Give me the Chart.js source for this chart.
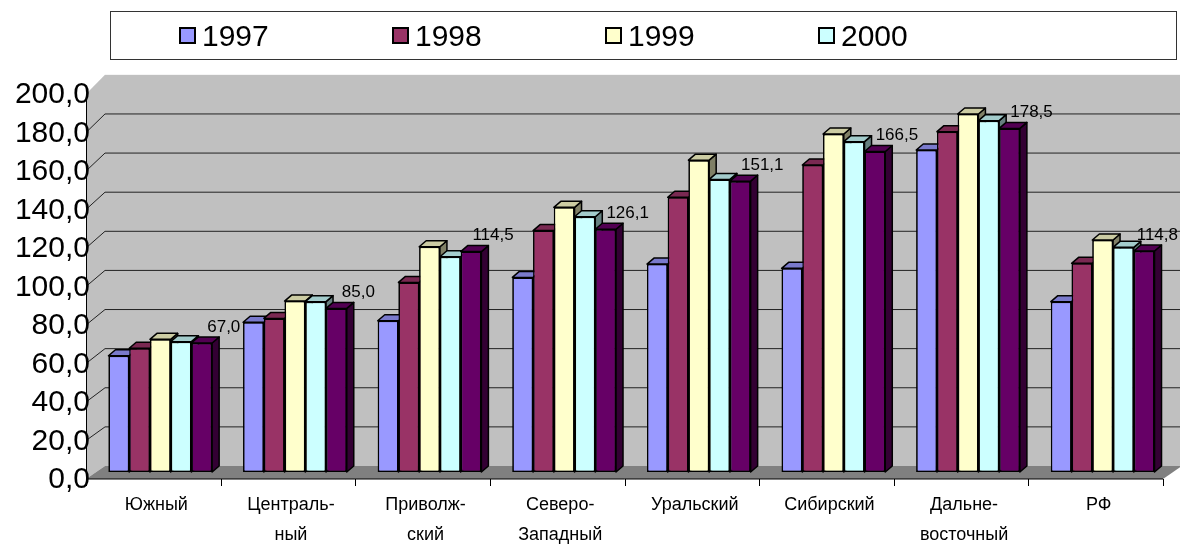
<!DOCTYPE html>
<html>
<head>
<meta charset="utf-8">
<script src="https://cdn.jsdelivr.net/npm/chart.js@4.4.0/dist/chart.umd.min.js"></script>
<style>
  html, body { margin: 0; padding: 0; background: #fff; }
  #wrap { position: relative; width: 1180px; height: 544px; }
  #chart { position: absolute; left: 0; top: 0; }
  #legend {
    position: absolute; left: 110px; top: 11px; width: 1067px; height: 49px;
    box-sizing: border-box; border: 1px solid #333; padding-left: 68px;
    display: flex; align-items: center;
    font: 30px Arial, "Liberation Sans", sans-serif; color: #000;
  }
  #legend .item { display: flex; align-items: center; width: 213px; }
  #legend .sq { width: 17px; height: 17px; box-sizing: border-box; border: 2px solid #000; margin-right: 6px; }
</style>
</head>
<body>
<div id="wrap">
  <canvas id="chart" width="1180" height="544"></canvas>
  <div id="legend"></div>
</div>
<script>
// regions (x axis)
const categories = [['Южный'], ['Централь-', 'ный'], ['Приволж-', 'ский'], ['Северо-', 'Западный'],
                    ['Уральский'], ['Сибирский'], ['Дальне-', 'восточный'], ['РФ']];
const seriesNames = ['1997', '1998', '1999', '2000', '2001'];
const values1997 = [60.4, 77.8, 78.6, 101.1, 108.0, 105.8, 167.3, 88.5];
const values1998 = [64.3, 79.8, 98.5, 125.4, 142.7, 159.5, 176.8, 108.4];
const values1999 = [68.9, 88.8, 117.0, 137.5, 162.0, 175.6, 186.0, 120.5];
const values2000 = [67.7, 88.5, 111.8, 132.6, 152.0, 171.6, 182.5, 116.7];
const values2001 = [67.0, 85.0, 114.5, 126.1, 151.1, 166.5, 178.5, 114.8];
const seriesColors = ['#9999FF', '#993366', '#FFFFCC', '#CCFFFF', '#660066'];
const legendCount = 4;     // only the first four years are in the legend
const labelledSeries = 4;  // the last series carries value labels
const yMin = 0, yMax = 200, yStep = 20;

const FONT = 'Arial, "Liberation Sans", sans-serif';
const BAR_DEPTH = { dx: 7, dy: -6 };
const FRONT = { dx: -7, dy: 7 };
const BACK = { dx: 12, dy: -6 };

function fmt(v) { return v.toFixed(1).replace('.', ','); }

function shade(hex, f) {
  const n = parseInt(hex.slice(1), 16);
  const r = Math.round(((n >> 16) & 255) * f), g = Math.round(((n >> 8) & 255) * f), b = Math.round((n & 255) * f);
  return `rgb(${r},${g},${b})`;
}

function poly(ctx, pts, fill, stroke) {
  ctx.beginPath();
  ctx.moveTo(pts[0][0], pts[0][1]);
  for (let i = 1; i < pts.length; i++) ctx.lineTo(pts[i][0], pts[i][1]);
  ctx.closePath();
  if (fill) { ctx.fillStyle = fill; ctx.fill(); }
  if (stroke) { ctx.strokeStyle = stroke; ctx.stroke(); }
}

// walls, floor and gridlines of the 3D box
const box3d = {
  id: 'box3d',
  beforeDraw(chart) {
    const { ctx, chartArea: a, scales: { y } } = chart;
    const fx0 = a.left + FRONT.dx, fx1 = a.right + FRONT.dx;
    const bx0 = a.left + BACK.dx, bx1 = a.right + BACK.dx;
    const fy = v => y.getPixelForValue(v) + FRONT.dy;
    const by = v => a.bottom + BACK.dy - (a.bottom - y.getPixelForValue(v)) * 1.016;
    ctx.save();
    ctx.fillStyle = '#C0C0C0';
    ctx.fillRect(bx0, by(yMax), bx1 - bx0, by(yMin) - by(yMax));
    poly(ctx, [[fx0, fy(yMin)], [bx0, by(yMin)], [bx0, by(yMax)], [fx0, fy(yMax)]], '#C0C0C0');
    poly(ctx, [[fx0, fy(yMin)], [fx1, fy(yMin)], [bx1, by(yMin)], [bx0, by(yMin)]], '#808080');
    ctx.lineWidth = 1;
    ctx.strokeStyle = '#222';
    for (let v = yMin + yStep; v < yMax; v += yStep) {
      ctx.beginPath();
      ctx.moveTo(fx0, fy(v)); ctx.lineTo(bx0, by(v)); ctx.lineTo(bx1, by(v));
      ctx.stroke();
    }
    ctx.strokeStyle = '#000';
    ctx.beginPath();
    ctx.moveTo(fx0 + 0.5, fy(yMax)); ctx.lineTo(fx0 + 0.5, fy(yMin)); ctx.lineTo(fx1, fy(yMin));
    ctx.stroke();
    const n = chart.data.labels.length;
    for (let i = 0; i <= n; i++) {
      const x = Math.round(a.left + i * a.width / n + FRONT.dx) + 0.5;
      ctx.beginPath(); ctx.moveTo(x, fy(yMin)); ctx.lineTo(x, fy(yMin) + 7); ctx.stroke();
    }
    ctx.restore();
  },
  afterDatasetsDraw(chart) {
    const ctx = chart.ctx;
    const metas = chart.data.datasets.map((d, i) => chart.getDatasetMeta(i));
    ctx.save();
    ctx.lineWidth = 1.5;
    ctx.lineJoin = 'round';
    for (let j = 0; j < chart.data.labels.length; j++) {
      metas.forEach((meta, i) => {
        const bar = meta.data[j];
        const { x, y, base, width } = bar.getProps(['x', 'y', 'base', 'width'], true);
        const x0 = x - width / 2, x1 = x + width / 2;
        const col = chart.data.datasets[i].backgroundColor;
        const dx = BAR_DEPTH.dx, dy = BAR_DEPTH.dy;
        poly(ctx, [[x1, y], [x1 + dx, y + dy], [x1 + dx, base + dy], [x1, base]], shade(col, 0.5), '#000');
        poly(ctx, [[x0, y], [x1, y], [x1 + dx, y + dy], [x0 + dx, y + dy]], shade(col, 0.8), '#000');
        bar.draw(ctx);
      });
    }
    // value labels for the last series, kept inside the canvas
    ctx.fillStyle = '#000';
    ctx.font = '17px ' + FONT;
    ctx.textAlign = 'center';
    ctx.textBaseline = 'middle';
    const ds = chart.data.datasets[labelledSeries];
    metas[labelledSeries].data.forEach((bar, j) => {
      const txt = fmt(ds.data[j]);
      const half = ctx.measureText(txt).width / 2;
      const lx = Math.min(bar.x + 22, chart.width - 2 - half);
      ctx.fillText(txt, lx, bar.y - 16);
    });
    ctx.restore();
  }
};

const seriesValues = [values1997, values1998, values1999, values2000, values2001];

const chart = new Chart(document.getElementById('chart').getContext('2d'), {
  type: 'bar',
  data: {
    labels: categories,
    datasets: seriesNames.map((name, i) => ({
      label: name,
      data: seriesValues[i],
      backgroundColor: seriesColors[i],
      borderColor: '#000',
      borderWidth: 1.5,
      borderSkipped: false,
      categoryPercentage: 0.77,
      barPercentage: 1.0
    }))
  },
  options: {
    responsive: false,
    animation: false,
    layout: { padding: { top: 87, right: 10, left: 0, bottom: 0 } },
    plugins: {
      legend: { display: false },
      tooltip: { enabled: false }
    },
    scales: {
      x: {
        grid: { display: false, drawTicks: false },
        border: { display: false },
        ticks: {
          color: '#000',
          font: { family: FONT, size: 18, lineHeight: '30px' },
          padding: 18,
          labelOffset: -4,
          autoSkip: false,
          maxRotation: 0
        },
        afterFit: s => { s.height = 72; }
      },
      y: {
        min: yMin,
        max: yMax,
        grid: { display: false, drawTicks: false },
        border: { display: false },
        ticks: {
          stepSize: yStep,
          color: '#000',
          font: { family: FONT, size: 30 },
          padding: 3,
          labelOffset: 8,
          autoSkip: false,
          callback: v => fmt(v)
        },
        afterFit: s => { s.width = 93; }
      }
    }
  },
  plugins: [box3d]
});

// HTML legend built from the chart's own legend items
const legendEl = document.getElementById('legend');
Chart.defaults.plugins.legend.labels.generateLabels(chart).slice(0, legendCount).forEach(item => {
  const el = document.createElement('div');
  el.className = 'item';
  const sq = document.createElement('span');
  sq.className = 'sq';
  sq.style.background = item.fillStyle;
  el.appendChild(sq);
  el.appendChild(document.createTextNode(item.text));
  legendEl.appendChild(el);
});
</script>
</body>
</html>
